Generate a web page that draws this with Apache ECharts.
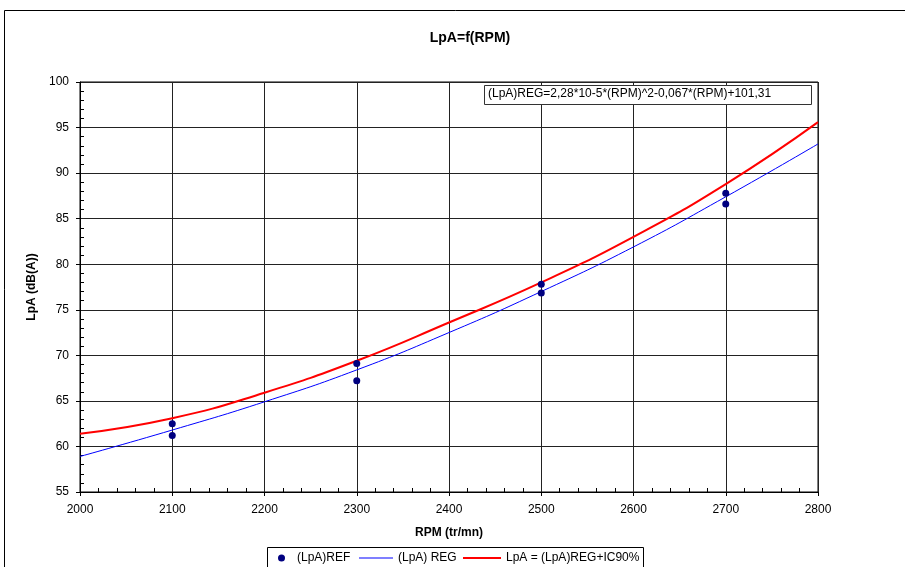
<!DOCTYPE html>
<html>
<head>
<meta charset="utf-8">
<script src="https://cdn.jsdelivr.net/npm/echarts@6/dist/echarts.min.js"></script>
<style>html,body{margin:0;padding:0;background:#fff}#c{width:905px;height:567px}</style>
</head>
<body>
<div id="c"></div>
<script>
// Data
const xTicksMin = 2000, xTicksMax = 2800, xStep = 100;
const yTicksMin = 55, yTicksMax = 100, yStep = 5;
const refRPM = [2100, 2100, 2300, 2300, 2500, 2500, 2700, 2700];
const refLpA = [62.5, 61.2, 69.1, 67.2, 77.8, 76.85, 87.8, 86.6];
const curveRPM = [2000, 2100, 2200, 2300, 2400, 2500, 2600, 2700, 2800];
const regLpA = [58.9, 61.8, 64.9, 68.4, 72.5, 77.0, 81.9, 87.4, 93.2];
const ic90LpA = [61.4, 63.1, 65.9, 69.4, 73.6, 78.0, 83.0, 88.8, 95.6];
const seriesNames = ['(LpA)REF', '(LpA) REG', 'LpA = (LpA)REG+IC90%'];
const titleText = 'LpA=f(RPM)';
const xName = 'RPM (tr/mn)';
const yName = 'LpA (dB(A))';
const formulaText = '(LpA)REG=2,28*10-5*(RPM)^2-0,067*(RPM)+101,31';

const FONT = "'Liberation Sans', Arial, sans-serif";
const chart = echarts.init(document.getElementById('c'));
const zip = (a, b) => a.map((v, i) => [v, b[i]]);
const legText = { fontFamily: FONT, fontSize: 12, color: '#000' };
const legBase = { top: 552, padding: 0, itemHeight: 7, textStyle: legText };

chart.setOption({
  backgroundColor: '#fff',
  animation: false,
  textStyle: { fontFamily: FONT, color: '#000' },
  title: {
    text: titleText, left: 465, top: 26, textAlign: 'center',
    textStyle: { fontFamily: FONT, fontSize: 14, fontWeight: 'bold', color: '#000' }
  },
  grid: {
    left: 80, right: 87, top: 82, bottom: 75,
    show: true, borderColor: '#000', borderWidth: 1, backgroundColor: 'transparent'
  },
  legend: [
    Object.assign({}, legBase, { left: 278, itemWidth: 21,
      data: [{ name: seriesNames[0], icon: 'circle' }] }),
    Object.assign({}, legBase, { left: 359, itemWidth: 34,
      data: [{ name: seriesNames[1], icon: 'path://M0,0 H40 V1 H0 Z' }] }),
    Object.assign({}, legBase, { left: 463, itemWidth: 38,
      data: [{ name: seriesNames[2], icon: 'path://M0,0 H40 V2.2 H0 Z' }] })
  ],
  xAxis: {
    type: 'value', min: xTicksMin, max: xTicksMax, interval: xStep,
    name: xName, nameLocation: 'middle', nameGap: 35,
    nameTextStyle: { fontFamily: FONT, fontSize: 12, fontWeight: 'bold', color: '#000' },
    axisLine: { show: true, lineStyle: { color: '#000', width: 1 } },
    axisTick: { show: true, length: 4, lineStyle: { color: '#000' } },
    minorTick: { show: true, splitNumber: 5, length: -4, lineStyle: { color: '#000' } },
    axisLabel: { fontFamily: FONT, fontSize: 12, color: '#000', margin: 12,
      formatter: v => String(v) },
    splitLine: { show: true, lineStyle: { color: '#222', width: 1 } }
  },
  yAxis: {
    type: 'value', min: yTicksMin, max: yTicksMax, interval: yStep,
    name: yName, nameLocation: 'middle', nameGap: 36,
    nameTextStyle: { fontFamily: FONT, fontSize: 12, fontWeight: 'bold', color: '#000' },
    axisLine: { show: true, lineStyle: { color: '#000', width: 1 } },
    axisTick: { show: true, length: 4, lineStyle: { color: '#000' } },
    minorTick: { show: true, splitNumber: 5, length: -4, lineStyle: { color: '#000' } },
    axisLabel: { fontFamily: FONT, fontSize: 12, color: '#000', margin: 11 },
    splitLine: { show: true, lineStyle: { color: '#222', width: 1 } }
  },
  series: [
    {
      name: seriesNames[0], type: 'scatter', data: zip(refRPM, refLpA),
      symbol: 'circle', symbolSize: 7, z: 5,
      itemStyle: { color: '#000080', opacity: 1 }
    },
    {
      name: seriesNames[1], type: 'line', data: zip(curveRPM, regLpA),
      smooth: true, symbol: 'none', z: 3,
      lineStyle: { color: '#0000ff', width: 1 }, itemStyle: { color: '#0000ff' }
    },
    {
      name: seriesNames[2], type: 'line', data: zip(curveRPM, ic90LpA),
      smooth: true, symbol: 'none', z: 4,
      lineStyle: { color: '#ff0000', width: 2 }, itemStyle: { color: '#ff0000' }
    }
  ],
  graphic: [
    { type: 'rect', z: -1, silent: true,
      shape: { x: 4.5, y: 10.5, width: 1000, height: 700 },
      style: { fill: 'none', stroke: '#000', lineWidth: 1 } },
    { type: 'rect', z: -1, silent: true,
      shape: { x: 267.5, y: 547.5, width: 376, height: 30 },
      style: { fill: '#fff', stroke: '#000', lineWidth: 1 } },
    { type: 'rect', z: 10, shape: { x: 484.5, y: 85.5, width: 327, height: 19 },
      style: { fill: '#fff', stroke: '#333', lineWidth: 1 } },
    { type: 'text', z: 11, left: 488, top: 88,
      style: { text: formulaText, font: "12px " + FONT, fill: '#000' } }
  ]
});
</script>
</body>
</html>
